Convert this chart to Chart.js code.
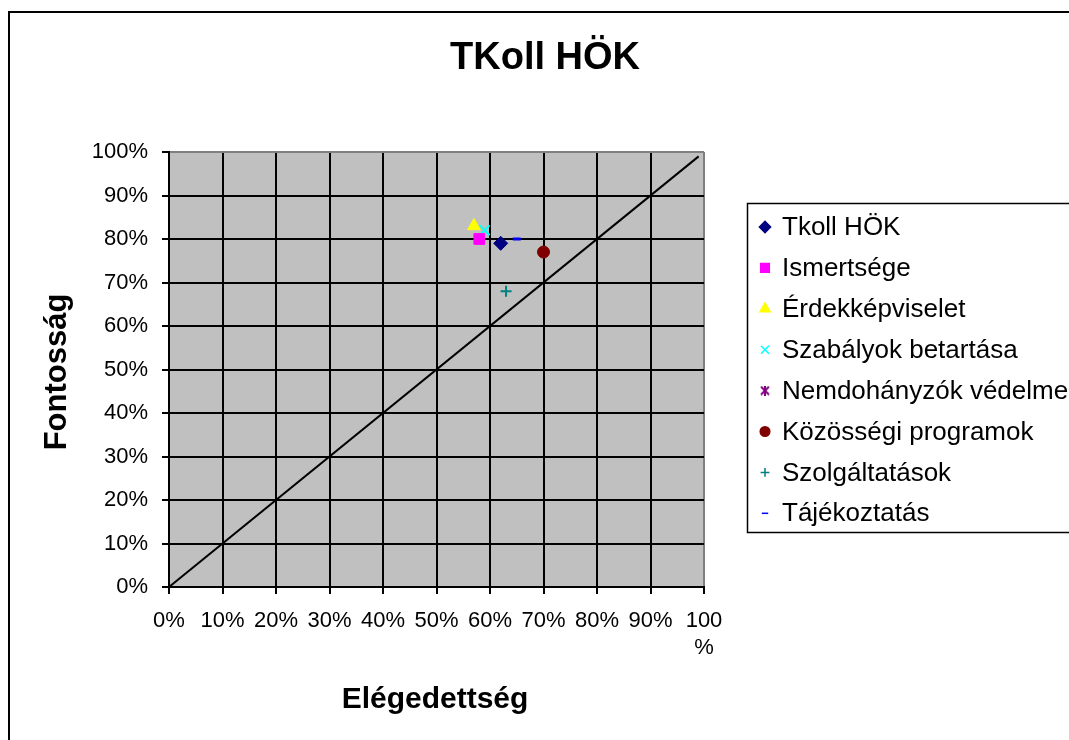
<!DOCTYPE html>
<html>
<head>
<meta charset="utf-8">
<title>TKoll HÖK</title>
<script src="https://cdn.jsdelivr.net/npm/chart.js@4.4.0/dist/chart.umd.min.js"></script>
<style>
  body { margin: 0; background: #fff; }
  canvas { display: block; }
</style>
</head>
<body>
<canvas id="hokChart" width="1069" height="740"></canvas>
<script>
// Data (percent)
const seriesNames = ['Tkoll HÖK', 'Ismertsége', 'Érdekképviselet', 'Szabályok betartása',
  'Nemdohányzók védelme', 'Közösségi programok', 'Szolgáltatások', 'Tájékoztatás'];
const satisfaction = [62, 58, 57, 59, 71, 70, 63, 65];   // Elégedettség (x)
const importance   = [79, 80, 83, 82, 85, 77, 68, 80];   // Fontosság (y)
const diagonalX = [0, 99];
const diagonalY = [0, 99];
const xTickLabels = ['0%', '10%', '20%', '30%', '40%', '50%', '60%', '70%', '80%', '90%', ['100', '%']];
const yTickLabels = ['0%', '10%', '20%', '30%', '40%', '50%', '60%', '70%', '80%', '90%', '100%'];

// Marker looks
const colors = ['#000080', '#ff00ff', '#ffff00', '#00ffff', '#800080', '#800000', '#008080', '#0000ff'];
const radii = [7, 7.6, 7.4, 7, 0, 6, 5.5, 4];

function asterisk(size, color) {
  const c = document.createElement('canvas');
  c.width = size; c.height = size;
  const g = c.getContext('2d');
  g.strokeStyle = color; g.lineWidth = 2;
  g.beginPath();
  g.moveTo(1, 1); g.lineTo(size - 1, size - 1);
  g.moveTo(size - 1, 1); g.lineTo(1, size - 1);
  g.moveTo(size / 2, 0); g.lineTo(size / 2, size);
  g.stroke();
  return c;
}
const styles = ['rectRot', 'rect', 'triangle', 'crossRot', asterisk(12, colors[4]), 'circle', 'cross', 'line'];
const legendStyles = ['rectRot', 'rect', 'triangle', 'crossRot', asterisk(10, colors[4]), 'circle', 'cross', 'line'];

const datasets = seriesNames.map((name, i) => ({
  label: name,
  data: [{ x: satisfaction[i], y: importance[i] }],
  pointStyle: styles[i],
  pointRadius: radii[i],
  pointHoverRadius: radii[i],
  backgroundColor: colors[i],
  borderColor: colors[i],
  borderWidth: (i === 3 || i === 6) ? 2 : (i === 7 ? 3 : 1)
}));
datasets.push({
  label: 'diagonal',
  type: 'line',
  data: diagonalX.map((x, i) => ({ x: x, y: diagonalY[i] })),
  borderColor: '#000',
  borderWidth: 2,
  pointRadius: 0,
  fill: false
});

const font = '"Liberation Sans", Arial, sans-serif';

const decor = {
  id: 'decor',
  beforeDraw(chart) {
    const { ctx, chartArea: a } = chart;
    ctx.save();
    ctx.fillStyle = '#fff';
    ctx.fillRect(0, 0, chart.width, chart.height);
    ctx.fillStyle = '#c0c0c0';
    ctx.fillRect(a.left, a.top, a.right - a.left, a.bottom - a.top);
    ctx.restore();
  },
  afterDraw(chart) {
    const ctx = chart.ctx;
    ctx.save();
    // outer frame
    ctx.strokeStyle = '#000';
    ctx.lineWidth = 2;
    ctx.strokeRect(9, 12, 1200, 900);
    // titles
    ctx.fillStyle = '#000';
    ctx.textAlign = 'center';
    ctx.textBaseline = 'middle';
    ctx.font = 'bold 38px ' + font;
    ctx.fillText('TKoll HÖK', 545, 59);
    ctx.font = 'bold 30px ' + font;
    ctx.fillText('Elégedettség', 435, 700);
    ctx.save();
    ctx.translate(57, 372);
    ctx.rotate(-Math.PI / 2);
    ctx.font = 'bold 31px ' + font;
    ctx.fillText('Fontosság', 0, 0);
    ctx.restore();
    // legend
    ctx.lineWidth = 1.5;
    ctx.strokeRect(747.5, 203.5, 400, 329);
    ctx.textAlign = 'left';
    ctx.font = '26px ' + font;
    seriesNames.forEach((name, i) => {
      const y = 227 + i * 40.9;
      ctx.fillStyle = colors[i];
      ctx.strokeStyle = colors[i];
      Chart.helpers.drawPoint(ctx, {
        pointStyle: legendStyles[i],
        radius: radii[i] * 0.8,
        rotation: 0,
        borderWidth: datasets[i].borderWidth
      }, 765, y);
      ctx.fillStyle = '#000';
      ctx.fillText(name, 782, y + 1);
    });
    ctx.restore();
  }
};

const ctx = document.getElementById('hokChart').getContext('2d');
const hokChart = new Chart(ctx, {
  type: 'scatter',
  data: { datasets: datasets },
  options: {
    responsive: false,
    animation: false,
    layout: { padding: { left: 0, top: 152, right: 365, bottom: 0 } },
    plugins: {
      legend: { display: false },
      title: { display: false },
      tooltip: { enabled: false }
    },
    scales: {
      x: {
        type: 'linear',
        min: 0,
        max: 100,
        afterFit: s => { s.height = 153; },
        ticks: {
          stepSize: 10,
          maxRotation: 0,
          autoSkip: false,
          padding: 14,
          color: '#000',
          font: { family: font, size: 22 },
          callback: (v, i) => xTickLabels[i]
        },
        grid: {
          color: c => (c.tick && c.tick.value === 100) ? '#808080' : '#000',
          tickColor: '#000',
          lineWidth: 2,
          tickLength: 7
        },
        border: { color: '#000', width: 2 }
      },
      y: {
        type: 'linear',
        min: 0,
        max: 100,
        afterFit: s => { s.width = 169; },
        ticks: {
          stepSize: 10,
          padding: 14,
          color: '#000',
          font: { family: font, size: 22 },
          callback: (v, i) => yTickLabels[i]
        },
        grid: {
          color: c => (c.tick && c.tick.value === 100) ? '#808080' : '#000',
          tickColor: '#000',
          lineWidth: 2,
          tickLength: 7
        },
        border: { color: '#000', width: 2 }
      }
    }
  },
  plugins: [decor]
});
</script>
</body>
</html>
